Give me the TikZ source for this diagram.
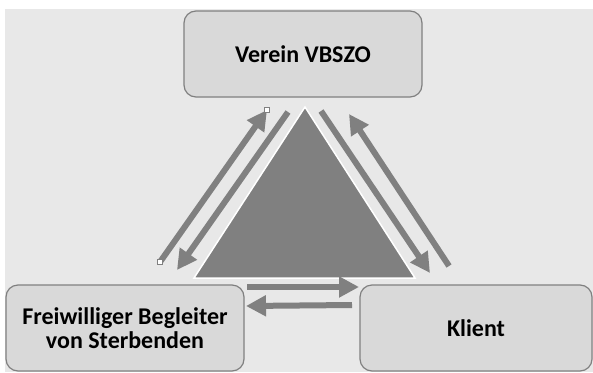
\documentclass[tikz,border=0pt]{standalone}
\usepackage{fontspec}
\setmainfont{Carlito}
\usetikzlibrary{arrows.meta,positioning}
\colorlet{bggray}{black!9}
\colorlet{boxgray}{black!15}
\colorlet{arrgray}{black!50}
\tikzstyle{box}=[draw=arrgray,fill=boxgray,line width=1.2pt,rounded corners=12pt,
  align=center,font=\bfseries\fontsize{24}{24}\selectfont]
\tikzstyle{flow}=[draw=arrgray,line width=6pt,
  -{Triangle[width=20pt,length=20pt]}]
\tikzstyle{handle}=[draw=arrgray,fill=white,line width=.5pt,inner sep=0pt,minimum size=5pt]

\begin{document}
\begin{tikzpicture}[x=1pt,y=-1pt]
  \useasboundingbox (0,0) rectangle (593,372);
  \fill[bggray] (5,9) rectangle (593,372);

  \node[box, minimum width=238pt, minimum height=86pt] at (303,54) (verein) {Verein VBSZO};
  \node[box, minimum width=238pt, minimum height=86pt] at (125,328) (begleiter)
    {Freiwilliger Begleiter\\ von Sterbenden};
  \node[box, minimum width=232pt, minimum height=86pt] at (476,328) (klient) {Klient};

  % triangle in the middle
  \filldraw[fill=arrgray, draw=white, line width=1.5pt]
    (305,107) -- (415,278) -- (194,278) -- cycle;

  \coordinate (l1) at (160,262);
  \coordinate (l2) at (267,110);
  \coordinate (l3) at (288,112);
  \coordinate (l4) at (177,270);
  \coordinate (r1) at (321,111);
  \coordinate (r2) at (430,273);
  \coordinate (r3) at (449,266);
  \coordinate (r4) at (349,114);
  \coordinate (b1) at (247,287);
  \coordinate (b2) at (359,287);
  \coordinate (b3) at (352,305);
  \coordinate (b4) at (246,306);

  \draw[flow] (l1) -- (l2);
  \draw[flow] (l3) -- (l4);
  \draw[flow] (r1) -- (r2);
  \draw[flow] (r3) -- (r4);
  \draw[flow] (b1) -- (b2);
  \draw[flow] (b3) -- (b4);

  \node[handle] at (l1) {};
  \node[handle] at (l2) {};
\end{tikzpicture}
\end{document}
